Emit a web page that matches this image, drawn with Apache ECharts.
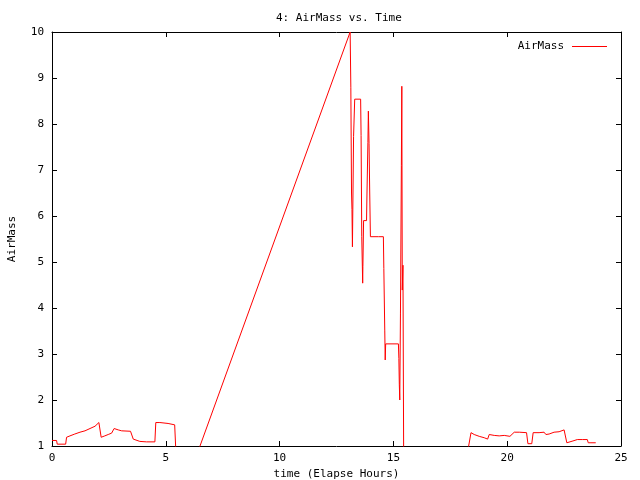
<!DOCTYPE html>
<html>
<head>
<meta charset="utf-8">
<script src="https://cdn.jsdelivr.net/npm/echarts@6/dist/echarts.min.js"></script>
<style>html,body{margin:0;padding:0;background:#fff}#c{width:640px;height:480px}</style>
</head>
<body>
<div id="c"></div>
<script>
var titleText = "4: AirMass vs. Time";
var xName = "time (Elapse Hours)";
var yName = "AirMass";
var seriesName = "AirMass";

var timeHours = [
  0.00, 0.20, 0.23, 0.60, 0.64, 0.79, 1.00, 1.23, 1.45, 1.67, 1.89, 2.06, 2.16, 2.32, 2.47, 2.62, 2.73, 2.91, 3.06, 3.45,
  3.57, 3.86, 4.15, 4.52, 4.56, 4.74, 5.10, 5.39, 5.55,
  13.10, 13.13, 13.16, 13.18, 13.20, 13.25, 13.30, 13.56, 13.58, 13.61, 13.65, 13.66, 13.69, 13.82, 13.84, 13.88, 13.90,
  13.93, 13.96, 13.99, 14.35, 14.38, 14.42, 14.56, 14.58, 14.62, 14.64, 14.66, 15.22, 15.24, 15.26, 15.28, 15.31, 15.35,
  15.37, 15.39, 15.42, 15.46,
  17.95, 18.41, 18.55, 18.77, 18.99, 19.14, 19.21, 19.43, 19.65, 19.87, 20.12, 20.20, 20.31, 20.53, 20.85, 20.91, 21.08,
  21.14, 21.40, 21.62, 21.70, 21.84, 22.06, 22.28, 22.50, 22.56, 22.62, 22.70, 22.89, 23.08, 23.30, 23.52, 23.56, 23.62,
  23.68, 23.89
];
var airMass = [
  1.12, 1.12, 1.04, 1.04, 1.19, 1.22, 1.26, 1.30, 1.33, 1.38, 1.43, 1.51, 1.19, 1.22, 1.25, 1.28, 1.38, 1.35, 1.33, 1.32,
  1.15, 1.10, 1.09, 1.09, 1.51, 1.51, 1.49, 1.46, -0.30,
  10.00, 8.80, 6.50, 6.14, 5.33, 7.73, 8.54, 8.54, 7.75, 5.55, 4.54, 4.90, 5.90, 5.90, 6.50, 7.60, 8.28,
  7.58, 6.50, 5.55, 5.55, 5.52, 5.55, 5.55, 4.86, 3.52, 2.87, 3.22, 3.22, 2.90, 2.33, 2.00, 3.89, 7.10,
  8.82, 4.39, 4.93, -0.50,
  0.00, 1.29, 1.25, 1.21, 1.18, 1.15, 1.25, 1.23, 1.22, 1.23, 1.21, 1.19, 1.30, 1.30, 1.29, 1.05, 1.05,
  1.29, 1.29, 1.30, 1.25, 1.26, 1.30, 1.31, 1.35, 1.35, 1.07, 1.07, 1.11, 1.14, 1.14, 1.14, 1.07, 1.10,
  1.07, 1.07
];

var pts = timeHours.map(function (t, i) { return [t, airMass[i]]; });

var font = "DejaVu Sans Mono";
var axisBase = {
  type: 'value',
  axisLine: { show: true, onZero: false, lineStyle: { color: '#000', width: 1 } },
  axisTick: { show: true, inside: true, length: 5, lineStyle: { color: '#000' } },
  splitLine: { show: false },
  axisLabel: { color: '#000', fontFamily: font, fontSize: 11 }
};
function ax(extra) { return Object.assign({}, JSON.parse(JSON.stringify(axisBase)), extra); }

var chart = echarts.init(document.getElementById('c'), null, { renderer: 'canvas' });
chart.setOption({
  animation: false,
  backgroundColor: '#fff',
  title: {
    text: titleText, left: 271, top: 8,
    textStyle: { fontFamily: font, fontSize: 11, fontWeight: 'normal', color: '#000' }
  },
  legend: {
    data: [seriesName], right: 28, top: 36, align: 'right',
    icon: 'rect', itemWidth: 35, itemHeight: 1,
    textStyle: { fontFamily: font, fontSize: 11, color: '#000', padding: [0, 3, 0, 0] }
  },
  grid: { left: 52, right: 19, top: 32, bottom: 34, containLabel: false, outerBoundsMode: 'none' },
  xAxis: [
    ax({ min: 0, max: 25, interval: 5, position: 'bottom', name: xName, nameLocation: 'middle', nameGap: 22,
         nameTextStyle: { fontFamily: font, fontSize: 11, color: '#000' },
         axisLabel: { color: '#000', fontFamily: font, fontSize: 11, margin: 7 } }),
    ax({ min: 0, max: 25, interval: 5, position: 'top', axisLabel: { show: false } })
  ],
  yAxis: [
    ax({ min: 1, max: 10, interval: 1, position: 'left', name: yName, nameLocation: 'middle', nameGap: 34,
         nameRotate: 90,
         nameTextStyle: { fontFamily: font, fontSize: 11, color: '#000' },
         axisLabel: { color: '#000', fontFamily: font, fontSize: 11, margin: 8 } }),
    ax({ min: 1, max: 10, interval: 1, position: 'right', axisLabel: { show: false } })
  ],
  series: [{
    name: seriesName, type: 'line', data: pts, showSymbol: false, symbol: 'none', clip: true,
    xAxisIndex: 0, yAxisIndex: 0,
    lineStyle: { color: '#ff0000', width: 1 }, itemStyle: { color: '#ff0000' }
  }]
});
</script>
</body>
</html>
